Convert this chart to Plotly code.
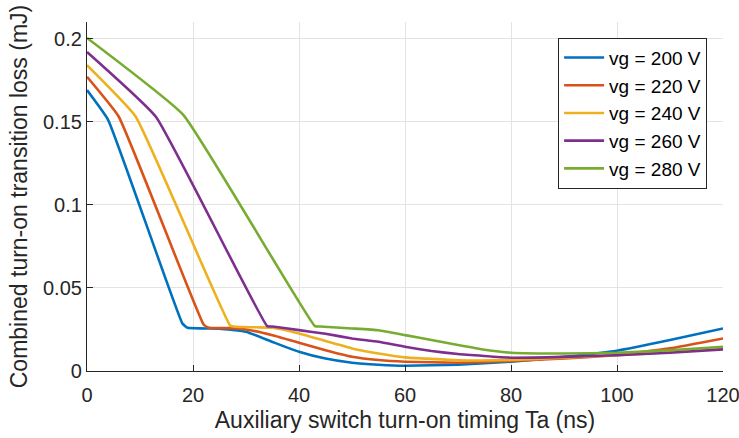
import plotly.graph_objects as go

# Auxiliary switch turn-on timing (ns) and combined turn-on transition loss (mJ)
ta_200 = [0, 4, 18, 19, 25, 30, 35, 40, 45, 50, 55, 60, 70, 80, 90, 100, 110, 120]
loss_200 = [0.169, 0.151, 0.0286, 0.026, 0.0255, 0.0236, 0.0175, 0.0116, 0.0075, 0.005, 0.0038, 0.0032, 0.0038, 0.0056, 0.0085, 0.0122, 0.0186, 0.0256]

ta_220 = [0, 6, 22, 23, 27, 30, 35, 40, 45, 50, 55, 60, 70, 80, 90, 100, 110, 120]
loss_220 = [0.177, 0.153, 0.028, 0.026, 0.0258, 0.025, 0.0215, 0.017, 0.0125, 0.0086, 0.0066, 0.0056, 0.005, 0.006, 0.0075, 0.0096, 0.0136, 0.0196]

ta_240 = [0, 9.2, 27, 28, 32, 35, 40, 45, 50, 55, 60, 70, 80, 90, 100, 110, 120]
loss_240 = [0.184, 0.153, 0.0274, 0.0266, 0.0263, 0.026, 0.0226, 0.018, 0.0136, 0.0105, 0.0082, 0.0065, 0.0066, 0.008, 0.0095, 0.0115, 0.014]

ta_260 = [0, 13, 34, 35, 40, 45, 50, 55, 60, 65, 70, 80, 90, 100, 110, 120]
loss_260 = [0.192, 0.153, 0.027, 0.0268, 0.0246, 0.0224, 0.0196, 0.0176, 0.0146, 0.012, 0.0102, 0.008, 0.0085, 0.0095, 0.011, 0.013]

ta_280 = [0, 18.2, 43, 44, 50, 55, 60, 65, 70, 75, 80, 90, 100, 110, 120]
loss_280 = [0.2004, 0.154, 0.027, 0.0268, 0.0256, 0.0245, 0.0216, 0.0186, 0.0156, 0.0128, 0.011, 0.0105, 0.011, 0.0125, 0.0146]

series = [
    ("vg = 200 V", ta_200, loss_200, "#0072BD"),
    ("vg = 220 V", ta_220, loss_220, "#D95319"),
    ("vg = 240 V", ta_240, loss_240, "#EDB120"),
    ("vg = 260 V", ta_260, loss_260, "#7E2F8E"),
    ("vg = 280 V", ta_280, loss_280, "#77AC30"),
]

x_ticks = [0, 20, 40, 60, 80, 100, 120]
y_ticks = [0, 0.05, 0.1, 0.15, 0.2]

FONT = "Liberation Sans, Arial, sans-serif"

fig = go.Figure()
for name, xs, ys, color in series:
    fig.add_trace(go.Scatter(
        x=xs, y=ys, name=name, mode="lines",
        line=dict(color=color, width=2.6, shape="spline", smoothing=0.35),
    ))

axis_common = dict(
    showline=True, linecolor="#262626", linewidth=1.2,
    ticks="inside", ticklen=6, tickcolor="#262626",
    showgrid=True, gridcolor="#e3e3e3", gridwidth=1,
    zeroline=False, mirror=False, automargin=False,
    ticklabeloverflow="allow",
    tickfont=dict(family=FONT, size=20, color="#262626"),
)

fig.update_layout(
    width=739, height=438,
    margin=dict(l=87, r=16, t=22, b=67, autoexpand=False),
    paper_bgcolor="white", plot_bgcolor="white",
    font=dict(family=FONT, color="#262626"),
    xaxis=dict(
        range=[0, 120], tickvals=x_ticks, ticklabelstandoff=6,
        title=dict(text="Auxiliary switch turn-on timing Ta (ns)", font=dict(size=23), standoff=6),
        **axis_common,
    ),
    yaxis=dict(
        range=[0, 0.21], tickvals=y_ticks,
        title=dict(text="Combined turn-on transition loss (mJ)", font=dict(size=23), standoff=8),
        **axis_common,
    ),
    legend=dict(
        x=0.975, y=0.955, xanchor="right", yanchor="top",
        bgcolor="white", bordercolor="#262626", borderwidth=1,
        font=dict(size=19, color="#000000"),
        tracegroupgap=0, itemwidth=40,
    ),
)

fig.write_html("out.html")
